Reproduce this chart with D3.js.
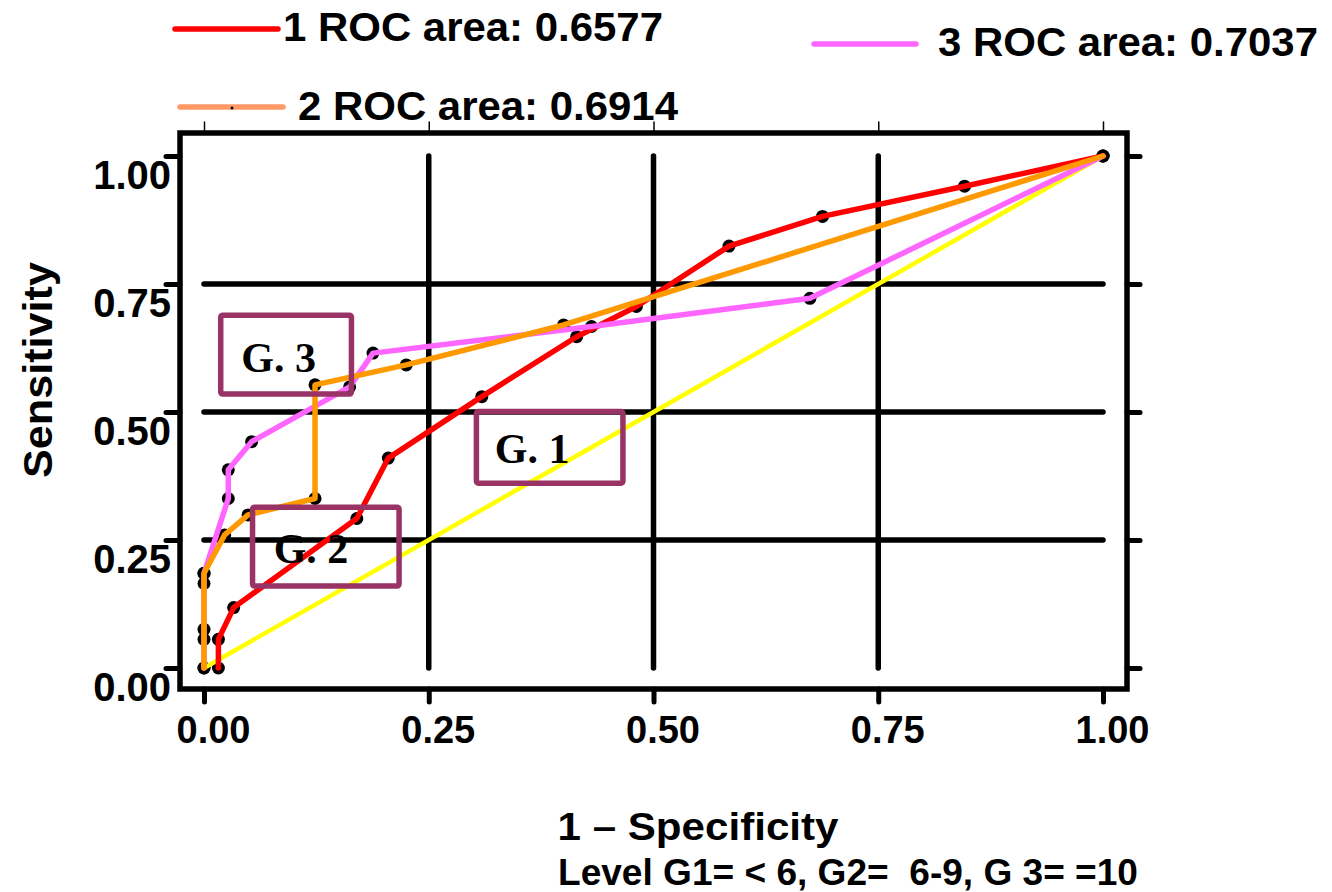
<!DOCTYPE html>
<html><head><meta charset="utf-8">
<script src="https://cdn.jsdelivr.net/npm/d3@7"></script>
<style>body{margin:0;background:#fff}svg{display:block}</style>
</head><body>
<svg id="chart" width="1332" height="892"></svg>
<script>
// ---- data ----
const legendLabels = ["1 ROC area: 0.6577", "2 ROC area: 0.6914", "3 ROC area: 0.7037"];
const g1Fpr  = [0.016, 0.016, 0.033, 0.170, 0.205, 0.309, 0.4145, 0.481, 0.584, 0.688, 0.846, 1];
const g1Sens = [0, 0.056, 0.118, 0.292, 0.410, 0.530, 0.647, 0.706, 0.824, 0.882, 0.941, 1];
const g2Fpr  = [0, 0, 0, 0, 0.023, 0.049, 0.1235, 0.1235, 0.225, 0.400, 1];
const g2Sens = [0, 0.056, 0.0755, 0.185, 0.260, 0.299, 0.331, 0.553, 0.592, 0.670, 1];
const g3Fpr  = [0, 0, 0, 0.027, 0.027, 0.053, 0.162, 0.188, 0.431, 0.674, 1];
const g3Sens = [0, 0.165, 0.185, 0.331, 0.387, 0.442, 0.549, 0.615, 0.667, 0.722, 1];
const refFpr = [0, 1];
const refSens = [0, 1];
const tickValues = [0, 0.25, 0.5, 0.75, 1];
const tickLabels = ["0.00", "0.25", "0.50", "0.75", "1.00"];
const xTitle = "1 \u2013 Specificity";
const xSubtitle = "Level G1= < 6, G2=  6-9, G 3= =10";
const yTitle = "Sensitivity";
// annotation boxes (data space)
const boxLabels = ["G. 1", "G. 2", "G. 3"];
const boxX0 = [0.303, 0.054, 0.0186];
const boxX1 = [0.466, 0.217, 0.164];
const boxY0 = [0.361, 0.160, 0.535];
const boxY1 = [0.501, 0.314, 0.689];
const boxTextX = [0.365, 0.119, 0.083];
const boxTextY = [0.400, 0.205, 0.578];

// ---- layout ----
const svg = d3.select("#chart");
const frame = {left: 180, right: 1127, top: 133, bottom: 689};
const x = d3.scaleLinear().domain([0, 1]).range([204, 1103]);
const y = d3.scaleLinear().domain([0, 1]).range([668, 156]);
const FONT = "Liberation Sans, Arial, Helvetica, sans-serif";
const SERIF = "Liberation Serif, Times New Roman, serif";

// grid lines
const gridVals = tickValues.slice(1, 4);
svg.append("g").selectAll("line").data(gridVals).join("line")
  .attr("x1", d => x(d)).attr("x2", d => x(d)).attr("y1", y(0)).attr("y2", y(1))
  .attr("stroke", "#000").attr("stroke-width", 5.5).attr("stroke-linecap", "round");
svg.append("g").selectAll("line").data(gridVals).join("line")
  .attr("y1", d => y(d)).attr("y2", d => y(d)).attr("x1", x(0)).attr("x2", x(1))
  .attr("stroke", "#000").attr("stroke-width", 5.5).attr("stroke-linecap", "round");

// frame
svg.append("rect").attr("x", frame.left).attr("y", frame.top)
  .attr("width", frame.right - frame.left).attr("height", frame.bottom - frame.top)
  .attr("fill", "none").attr("stroke", "#000").attr("stroke-width", 5.5);

// axes
function styleAxis(g, w) {
  g.select(".domain").remove();
  g.selectAll(".tick line").attr("stroke", "#000").attr("stroke-width", w).attr("stroke-linecap", "round");
}
const yAxis = svg.append("g").attr("transform", `translate(${frame.left},0)`)
  .call(d3.axisLeft(y).tickValues(tickValues).tickFormat((d, i) => tickLabels[i]).tickSize(14));
styleAxis(yAxis, 5);
yAxis.selectAll(".tick text").attr("font-family", FONT).attr("font-weight", "bold")
  .attr("font-size", 40).attr("fill", "#000").attr("x", -9).attr("dy", 0).attr("y", 32);

const xAxis = svg.append("g").attr("transform", `translate(0,${frame.bottom})`)
  .call(d3.axisBottom(x).tickValues(tickValues).tickFormat((d, i) => tickLabels[i]).tickSize(13));
styleAxis(xAxis, 5);
xAxis.selectAll(".tick text").attr("font-family", FONT).attr("font-weight", "bold")
  .attr("font-size", 38).attr("fill", "#000").attr("x", 9).attr("y", 54).attr("dy", 0);

const rAxis = svg.append("g").attr("transform", `translate(${frame.right},0)`)
  .call(d3.axisRight(y).tickValues(tickValues).tickFormat("").tickSize(13));
styleAxis(rAxis, 5);
const tAxis = svg.append("g").attr("transform", `translate(0,${frame.top})`)
  .call(d3.axisTop(x).tickValues(tickValues).tickFormat("").tickSize(11));
styleAxis(tAxis, 1.5);

// series
const lineGen = d3.line().x(d => x(d[0])).y(d => y(d[1]));
const zip = (a, b) => a.map((v, i) => [v, b[i]]);
const seriesData = [
  {pts: zip(refFpr, refSens), color: "#FFFF00", w: 4.5, dots: false},
  {pts: zip(g1Fpr, g1Sens), color: "#FF0000", w: 5.5, dots: true},
  {pts: zip(g3Fpr, g3Sens), color: "#FF66FF", w: 5.5, dots: true},
  {pts: zip(g2Fpr, g2Sens), color: "#FF9900", w: 5.5, dots: true}
];
// markers first
seriesData.filter(s => s.dots).forEach(s => {
  svg.append("g").selectAll("circle").data(s.pts).join("circle")
    .attr("cx", d => x(d[0])).attr("cy", d => y(d[1])).attr("r", 6.5).attr("fill", "#000");
});
seriesData.forEach(s => {
  svg.append("path").attr("d", lineGen(s.pts)).attr("fill", "none")
    .attr("stroke", s.color).attr("stroke-width", s.w)
    .attr("stroke-linejoin", "round").attr("stroke-linecap", "round");
});

// annotation boxes
boxLabels.forEach((lab, i) => {
  svg.append("rect").attr("x", x(boxX0[i])).attr("y", y(boxY1[i]))
    .attr("width", x(boxX1[i]) - x(boxX0[i])).attr("height", y(boxY0[i]) - y(boxY1[i]))
    .attr("rx", 2).attr("fill", "none").attr("stroke", "#993366").attr("stroke-width", 5.5);
  svg.append("text").attr("x", x(boxTextX[i])).attr("y", y(boxTextY[i]))
    .attr("text-anchor", "middle").attr("font-family", SERIF).attr("font-weight", "bold")
    .attr("font-size", 42).attr("fill", "#000").text(lab);
});

// legend
const leg = [
  {x1: 175, x2: 278, ly: 29, tx: 283, ty: 41, color: "#FF0000"},
  {x1: 180, x2: 283, ly: 107, tx: 298, ty: 120, color: "#FF9966"},
  {x1: 814, x2: 916, ly: 44, tx: 938, ty: 56, color: "#FF66FF"}
];
leg.forEach((l, i) => {
  svg.append("line").attr("x1", l.x1).attr("x2", l.x2).attr("y1", l.ly).attr("y2", l.ly)
    .attr("stroke", l.color).attr("stroke-width", 5.5).attr("stroke-linecap", "round");
  svg.append("text").attr("x", l.tx).attr("y", l.ty).attr("font-family", FONT)
    .attr("font-weight", "bold").attr("font-size", 40).attr("fill", "#000")
    .attr("textLength", 380).attr("lengthAdjust", "spacingAndGlyphs").text(legendLabels[i]);
});
svg.append("circle").attr("cx", 232).attr("cy", 108).attr("r", 1.5).attr("fill", "#000");

// titles
svg.append("text").attr("x", 698).attr("y", 840).attr("text-anchor", "middle")
  .attr("font-family", FONT).attr("font-weight", "bold").attr("font-size", 38)
  .attr("textLength", 281).attr("lengthAdjust", "spacingAndGlyphs").text(xTitle);
svg.append("text").attr("x", 558).attr("y", 885).style("white-space", "pre")
  .attr("font-family", FONT).attr("font-weight", "bold").attr("font-size", 36)
  .attr("textLength", 580).attr("lengthAdjust", "spacingAndGlyphs").text(xSubtitle);
svg.append("text").attr("transform", "translate(52,370) rotate(-90)").attr("text-anchor", "middle")
  .attr("font-family", FONT).attr("font-weight", "bold").attr("font-size", 40)
  .attr("textLength", 216).attr("lengthAdjust", "spacingAndGlyphs").text(yTitle);
</script>
</body></html>
